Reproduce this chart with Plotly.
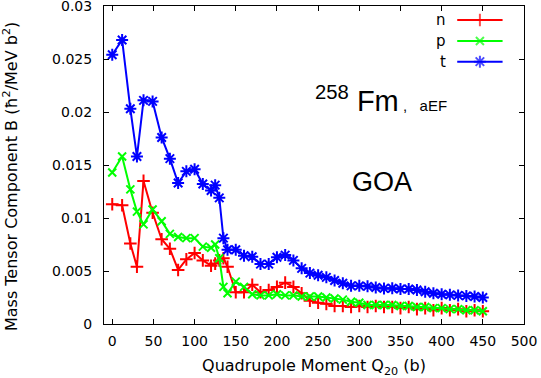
import plotly.graph_objects as go

# ---------------- data ----------------
q20 = [0, 12, 22, 30, 38, 49, 60, 70, 80, 90, 100, 110, 120, 125, 130, 135, 140, 150,
       160, 170, 180, 190, 200, 210, 220, 230, 240, 250, 260, 270, 280, 290, 300,
       310, 320, 330, 340, 350, 360, 370, 380, 390, 400, 410, 420, 430, 440, 450]

b_n = [0.0113, 0.0112, 0.0076, 0.0054, 0.0135, 0.0105, 0.0080, 0.0071, 0.0051, 0.0061,
       0.0067, 0.0060, 0.0055, 0.0057, 0.0060, 0.0062, 0.0054, 0.0030,
       0.0030, 0.0037, 0.0030, 0.0032, 0.0035, 0.0039, 0.0035, 0.0029, 0.0022, 0.0020,
       0.0019, 0.0017, 0.0017, 0.0016, 0.0017, 0.0016, 0.0017, 0.0016, 0.0016, 0.0015,
       0.0016, 0.0014, 0.0015, 0.0013, 0.0015, 0.0013, 0.0014, 0.0012, 0.0013, 0.0012]

b_p = [0.0143, 0.0158, 0.0127, 0.0106, 0.0094, 0.0108, 0.0097, 0.0085, 0.0082, 0.0081,
       0.0081, 0.0073, 0.0072, 0.0075, 0.0062, 0.0035, 0.0029, 0.0040,
       0.0035, 0.0028, 0.0027, 0.0027, 0.0028, 0.0027, 0.0027, 0.0026, 0.0026, 0.0026,
       0.0025, 0.0024, 0.0023, 0.0021, 0.0020, 0.0018, 0.0018, 0.0018, 0.0018, 0.0017,
       0.0017, 0.0016, 0.0016, 0.0015, 0.0015, 0.0014, 0.0014, 0.0013, 0.0013, 0.0012]

b_t = [0.0254, 0.0268, 0.0203, 0.0158, 0.0211, 0.0210, 0.0176, 0.0156, 0.0133, 0.0144,
       0.0146, 0.0132, 0.0126, 0.0131, 0.0119, 0.0081, 0.0070, 0.0070,
       0.00645, 0.00635, 0.00565, 0.00565, 0.0063, 0.0065, 0.0060, 0.00525, 0.0048, 0.0046,
       0.0044, 0.0041, 0.00385, 0.0036, 0.0036, 0.00355, 0.00345, 0.00336, 0.00337, 0.0033,
       0.0033, 0.0032, 0.00305, 0.0029, 0.0028, 0.00275, 0.0027, 0.00265, 0.0026, 0.0025]

x_ticks = [0, 50, 100, 150, 200, 250, 300, 350, 400, 450, 500]
y_ticks = [0, 0.005, 0.01, 0.015, 0.02, 0.025, 0.03]
y_tick_labels = ["0", "0.005", "0.01", "0.015", "0.02", "0.025", "0.03"]

series_names = ["n", "p", "t"]
# --------------------------------------

FONT = "DejaVu Sans, sans-serif"
FONT2 = "Liberation Sans, Arial, sans-serif"
colors = ["#ff0000", "#00ff00", "#0000ff"]
symbols = ["cross-thin-open", "x-thin-open", "asterisk-open"]
sizes = [9, 8, 10]

fig = go.Figure()
for name, ys, c, s, sz in zip(series_names, [b_n, b_p, b_t], colors, symbols, sizes):
    fig.add_trace(go.Scatter(
        x=q20, y=ys, mode="lines+markers", name=name, showlegend=False,
        line=dict(color=c, width=2),
        marker=dict(symbol=s, size=sz, color=c, line=dict(color=c, width=2)),
    ))

# manual gnuplot-style key (text on the left, sample on the right)
key_y = [0.956, 0.890, 0.825]
key_x0, key_x1, key_xm, key_xt = 0.841, 0.949, 0.895, 0.818
for name, c, s, sz, ky in zip(series_names, colors, symbols, sizes, key_y):
    fig.add_trace(go.Scatter(
        x=[key_x0, key_xm, key_x1], y=[ky, ky, ky], xaxis="x2", yaxis="y2",
        mode="lines+markers", showlegend=False, hoverinfo="skip",
        line=dict(color=c, width=2),
        marker=dict(symbol=s, size=[0, sz, 0], color=c, line=dict(color=c, width=2)),
    ))
    fig.add_annotation(x=key_xt, y=ky, xref="paper", yref="paper", text=name,
                       showarrow=False, xanchor="right", yanchor="middle",
                       font=dict(family=FONT, size=15, color="black"))

fig.add_annotation(x=0.497, y=0.707, xref="paper", yref="paper",
                   text="<sup>258</sup>&nbsp;Fm<span style='font-size:15px'>&nbsp;,&nbsp;&nbsp;&nbsp;aEF</span>",
                   showarrow=False, xanchor="left", yanchor="middle",
                   font=dict(family=FONT2, size=29, color="black"))
fig.add_annotation(x=0.663, y=0.447, xref="paper", yref="paper", text="GOA",
                   showarrow=False, xanchor="center", yanchor="middle",
                   font=dict(family=FONT2, size=27, color="black"))
fig.add_annotation(x=-0.224, y=0.465, xref="paper", yref="paper",
                   text="Mass Tensor Component B (ħ<sup>2</sup>/MeV b<sup>2</sup>)",
                   textangle=-90, showarrow=False, xanchor="center", yanchor="middle",
                   font=dict(family=FONT, size=16, color="black"))

axis_common = dict(showline=True, linecolor="black", linewidth=1, mirror="ticks",
                   ticks="inside", ticklen=5, tickcolor="black", tickwidth=1,
                   showgrid=False, zeroline=False, ticklabeloverflow="allow",
                   automargin=False,
                   tickfont=dict(family=FONT, size=14, color="black"))

fig.update_layout(
    width=541, height=378,
    margin=dict(l=104, r=17, t=6, b=54),
    paper_bgcolor="white", plot_bgcolor="white",
    font=dict(family=FONT, size=15, color="black"),
    xaxis=dict(range=[-10, 500], tickvals=x_ticks, ticklabelstandoff=4,
               title=dict(text="Quadrupole Moment Q<sub>20</sub> (b)", standoff=12,
                          font=dict(family=FONT, size=16)),
               **axis_common),
    yaxis=dict(range=[0, 0.03], tickvals=y_ticks, ticktext=y_tick_labels,
               ticklabelstandoff=8, **axis_common),
    xaxis2=dict(overlaying="x", range=[0, 1], visible=False),
    yaxis2=dict(overlaying="y", range=[0, 1], visible=False),
)

fig.write_html("out.html", config={"displayModeBar": False},
               post_script="document.body.style.margin='0px';document.body.style.overflow='hidden';")
